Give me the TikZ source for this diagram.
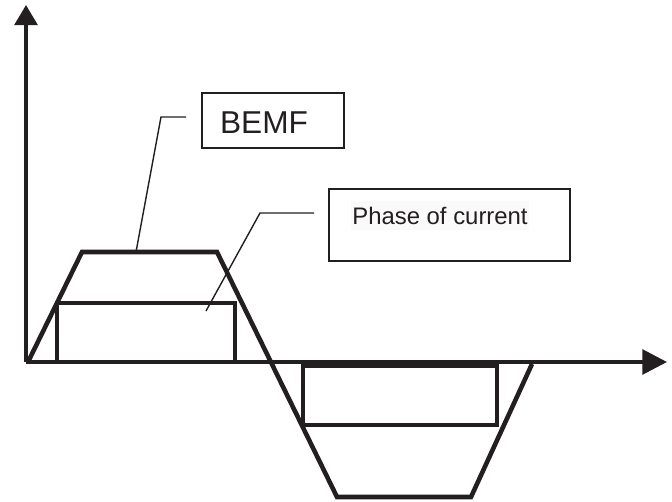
\documentclass[tikz,border=0pt]{standalone}
\usepackage{fontspec}
\setmainfont{Liberation Sans}
\usetikzlibrary{arrows.meta}
\definecolor{ink}{RGB}{35,31,32}

\begin{document}
\begin{tikzpicture}[
    x=0.02cm, y=-0.02cm,
    draw=ink, text=ink,
    axis/.style = {line width=2.2pt},
    wave/.style = {line width=2.6pt},
    phase/.style = {line width=2.1pt},
    leader/.style = {line width=0.8pt},
    tagbox/.style = {draw, line width=0.9pt, inner sep=0pt}
     ]
  \useasboundingbox (0,0) rectangle (672,502);
  % axes
  \coordinate (o) at (26,362);
  \draw[axis,-{Triangle[length=11.5pt,width=13pt]}] (o) -- (26,5);
  \draw[axis,-{Triangle[length=14pt,width=14pt]}] (o) -- (667,362);
  % back emf and phase current
  \draw[wave] (28,362) -- (82,252) -- (217,252) -- (337,497) -- (471,497) -- (532,364);
  \draw[phase] (57,303) rectangle (235,362);
  \draw[phase] (303,366) rectangle (497,425);
  % labels
  \node[tagbox, minimum width=2.84cm, minimum height=1.1cm] (bemfbox) at (273,120.5) {};
  \node[font=\fontsize{18}{20}\selectfont] (bemf) at (264,123) {BEMF};
  \node[tagbox, minimum width=4.82cm, minimum height=1.44cm] (phasebox) at (449.5,225) {};
  \node[font=\fontsize{13.6}{15}\selectfont, fill=black!2, inner xsep=1pt,
        minimum height=0.58cm] (phase) at (440,215.5) {Phase of current};
  \coordinate (bemffoot) at (136,252);
  \coordinate (bemfend) at (186,117);
  \draw[leader] (bemffoot) -- (161,117) -- (bemfend);
  \coordinate (phasefoot) at (206,311);
  \coordinate (phaseend) at (314,213);
  \draw[leader] (phasefoot) -- (260,213) -- (phaseend);
\end{tikzpicture}
\end{document}
